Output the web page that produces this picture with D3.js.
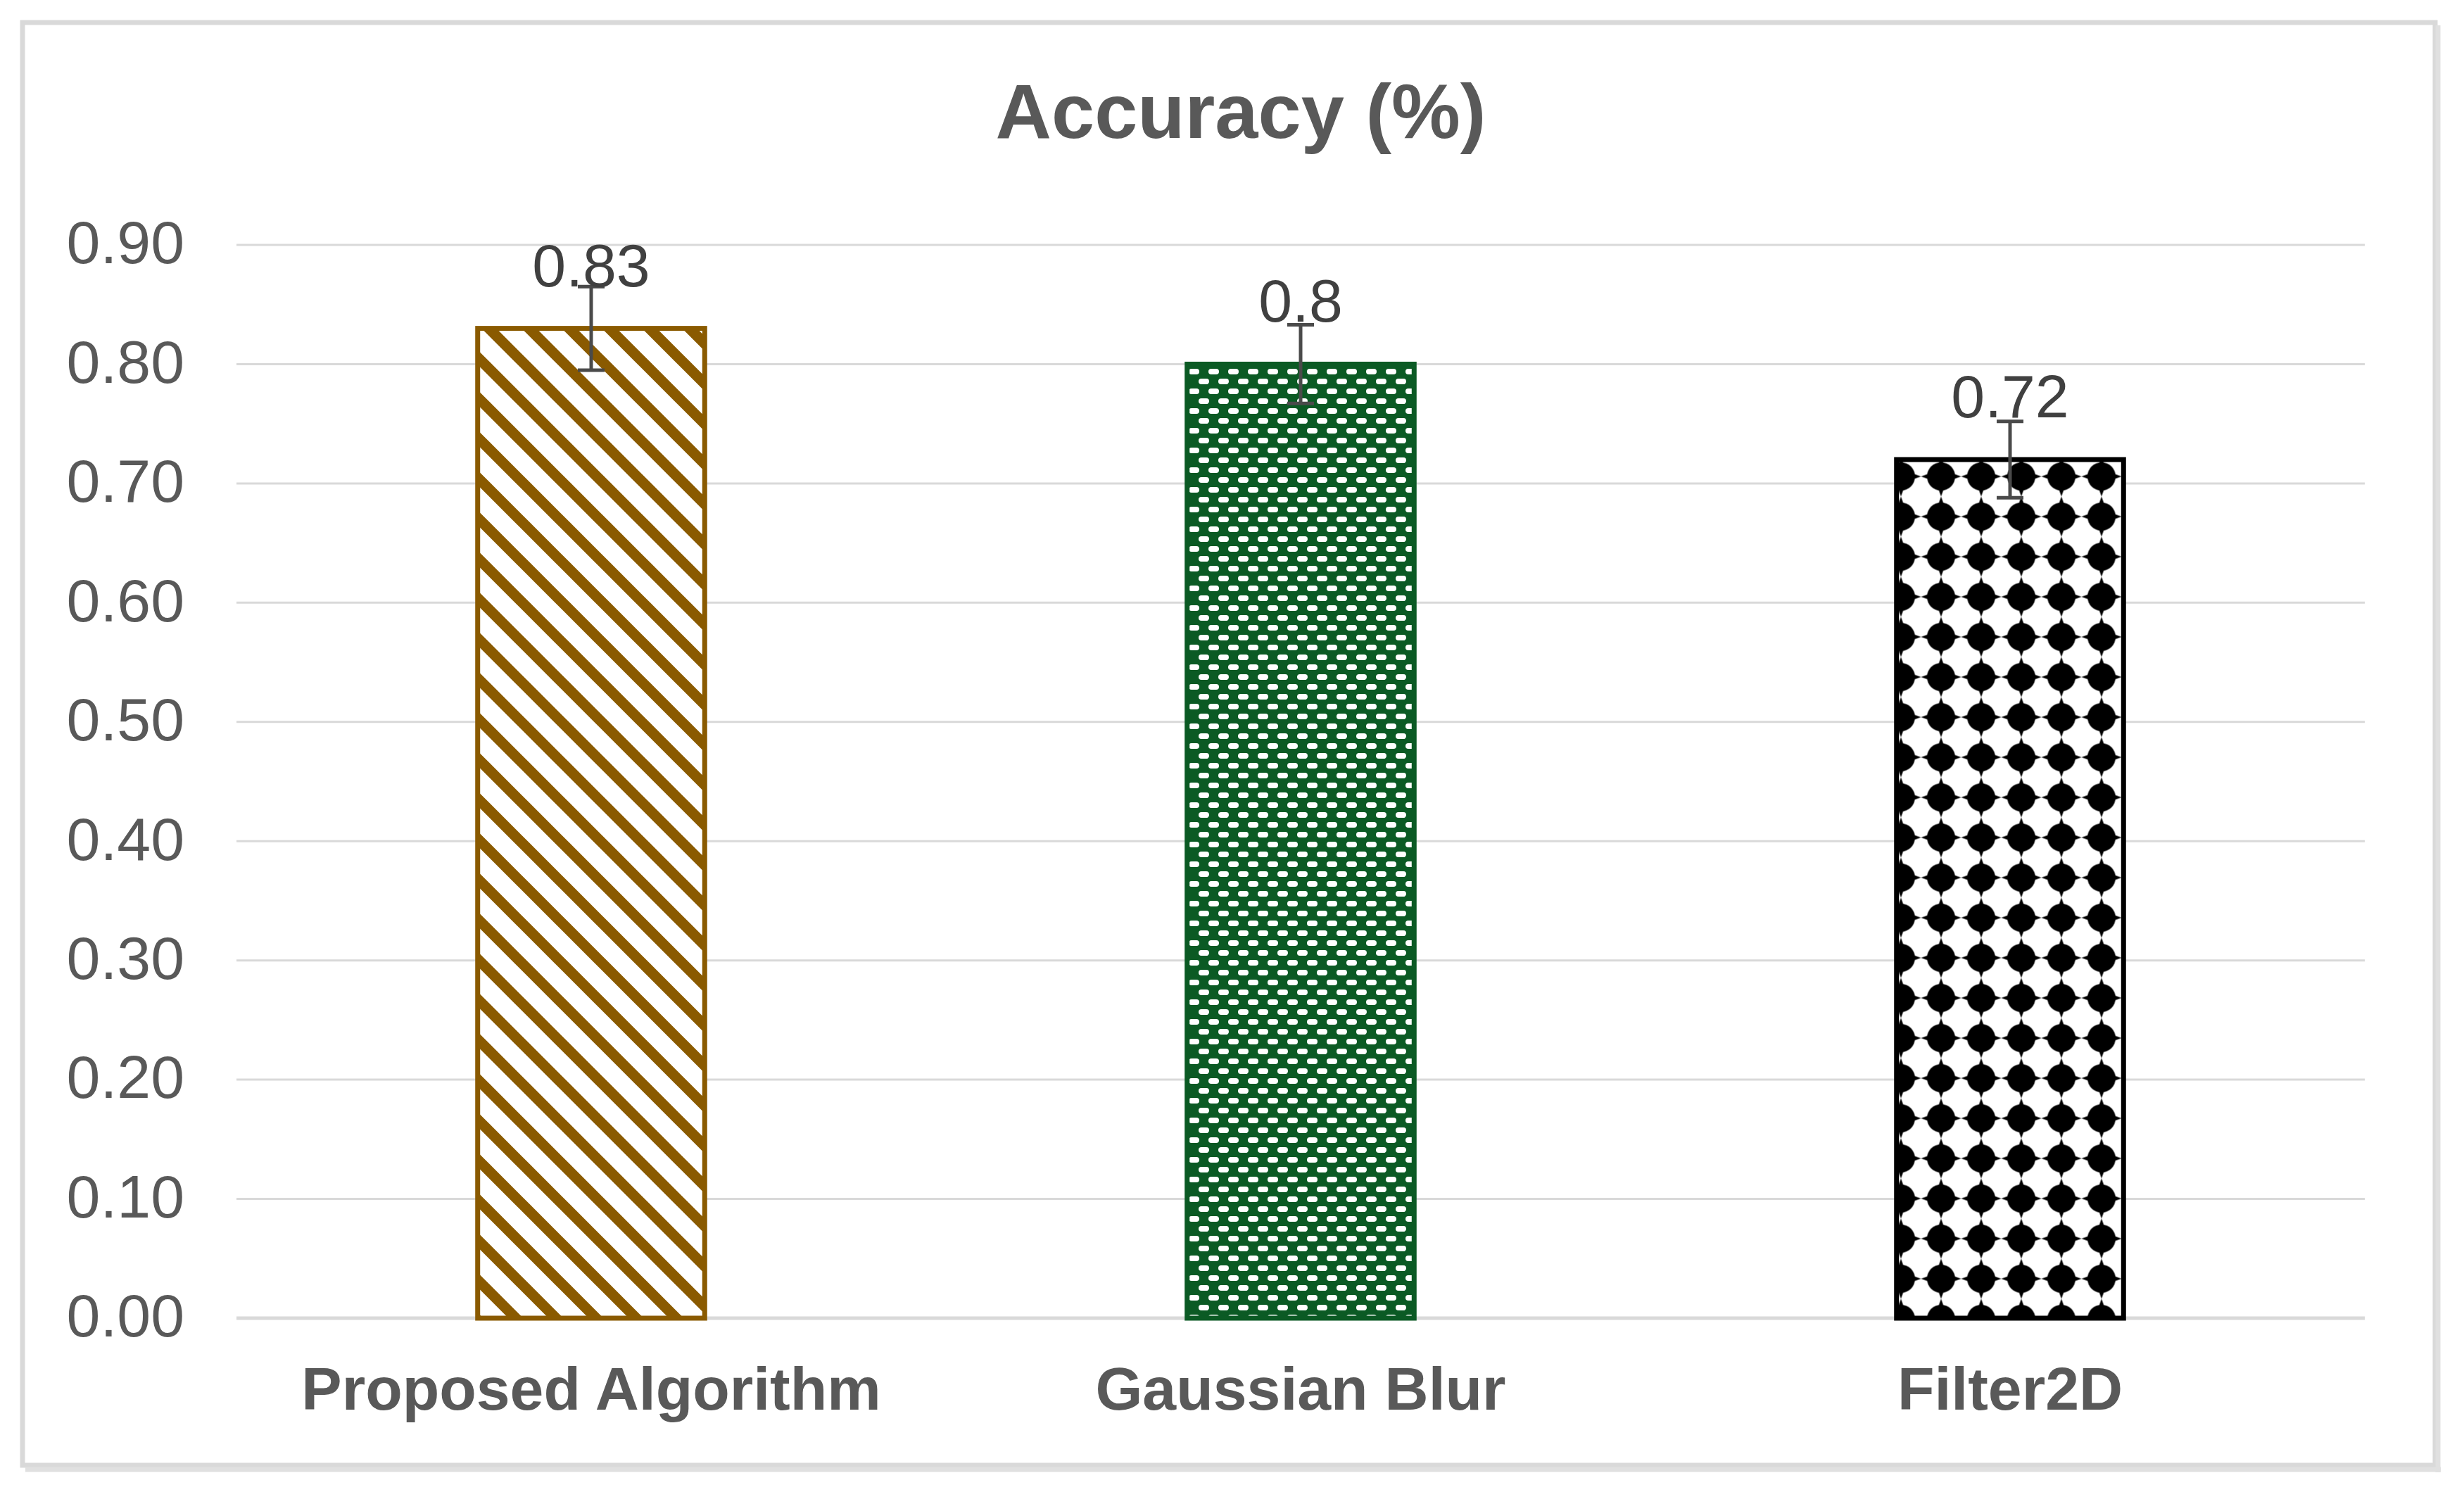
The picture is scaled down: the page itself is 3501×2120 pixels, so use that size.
<!DOCTYPE html>
<html>
<head>
<meta charset="utf-8">
<script src="https://cdnjs.cloudflare.com/ajax/libs/d3/7.8.5/d3.min.js"></script>
<style>
  body { margin: 0; background: #fff; }
  text { font-family: "Liberation Sans", Arial, sans-serif; fill: #595959; }
</style>
</head>
<body>
<div id="chart"></div>
<script>

// data
var categories = ["Proposed Algorithm", "Gaussian Blur", "Filter2D"];
var accuracy = [0.83, 0.8, 0.72];
var errorSize = [0.035, 0.033, 0.032];
var valueLabels = ["0.83", "0.8", "0.72"];
var yTicks = [0, 0.1, 0.2, 0.3, 0.4, 0.5, 0.6, 0.7, 0.8, 0.9];
var patternIds = ["stripes", "dashes", "stars"];
var barColors = ["#8a5a00", "#0b5a24", "#000000"];

var W = 3501, H = 2120;

var svg = d3.select("#chart").append("svg")
    .attr("width", W)
    .attr("height", H);

// Set the ranges
var x = d3.scaleBand()
    .domain(categories)
    .range([336, 3360])
    .paddingInner(0.68)
    .paddingOuter(0.34);

var y = d3.scaleLinear()
    .domain([0, 0.9])
    .range([1873, 348]);

// chart border (with a slight shadow on right/bottom)
svg.append("rect")
    .attr("x", 32).attr("y", 32)
    .attr("width", 3428).attr("height", 2050)
    .attr("fill", "#fff")
    .attr("stroke", "#d9d9d9")
    .attr("stroke-width", 7);
svg.append("line")
    .attr("x1", 3464).attr("x2", 3464)
    .attr("y1", 36).attr("y2", 2092)
    .attr("stroke", "#e0e0e0").attr("stroke-width", 7);
svg.append("line")
    .attr("x1", 36).attr("x2", 3468)
    .attr("y1", 2088).attr("y2", 2088)
    .attr("stroke", "#e0e0e0").attr("stroke-width", 7);

// fill patterns
var defs = svg.append("defs");

var p1 = defs.append("pattern")
    .attr("id", "stripes")
    .attr("patternUnits", "userSpaceOnUse")
    .attr("width", 57).attr("height", 57);
p1.append("rect").attr("width", 57).attr("height", 57).attr("fill", "#fff");
p1.append("path")
    .attr("d", "M-10,-10L67,67M-67,-10L10,67M47,-10L124,67")
    .attr("stroke", barColors[0])
    .attr("stroke-width", 15);

var p2 = defs.append("pattern")
    .attr("id", "dashes")
    .attr("patternUnits", "userSpaceOnUse")
    .attr("x", 1688).attr("y", 520)
    .attr("width", 28).attr("height", 28);
p2.append("rect").attr("width", 28).attr("height", 28).attr("fill", barColors[1]);
p2.append("rect").attr("x", 1).attr("y", 4).attr("width", 15).attr("height", 8)
    .attr("rx", 4).attr("fill", "#fff");
p2.append("rect").attr("x", 15).attr("y", 18).attr("width", 15).attr("height", 8)
    .attr("rx", 4).attr("fill", "#fff");
p2.append("rect").attr("x", -13).attr("y", 18).attr("width", 15).attr("height", 8)
    .attr("rx", 4).attr("fill", "#fff");

var p3 = defs.append("pattern")
    .attr("id", "stars")
    .attr("patternUnits", "userSpaceOnUse")
    .attr("x", 2701 - 28.5).attr("y", 677 - 28.5)
    .attr("width", 57).attr("height", 57);
p3.append("rect").attr("width", 57).attr("height", 57).attr("fill", "#fff");
p3.append("circle").attr("cx", 28.5).attr("cy", 28.5).attr("r", 20).attr("fill", "#000");
p3.append("path")
    .attr("d", "M28.5,0L36,21L57,28.5L36,36L28.5,57L21,36L0,28.5L21,21Z")
    .attr("fill", "#000");

// gridlines
svg.append("g")
    .selectAll("line")
    .data(yTicks)
    .enter().append("line")
    .attr("x1", 336)
    .attr("x2", 3360)
    .attr("y1", function(d) { return y(d); })
    .attr("y2", function(d) { return y(d); })
    .attr("stroke", "#d9d9d9")
    .attr("stroke-width", function(d) { return d === 0 ? 5 : 3; });

// Y axis labels
var ya = d3.axisLeft(y)
    .tickValues(yTicks)
    .tickFormat(d3.format(".2f"))
    .tickSize(0)
    .tickPadding(74);

svg.append("g")
    .attr("transform", "translate(336,0)")
    .call(ya)
    .call(function(g) { g.select(".domain").remove(); })
    .selectAll("text")
    .attr("font-size", 86)
    .attr("dy", "0.3em")
    .style("fill", "#595959");

// X axis labels
var xa = d3.axisBottom(x).tickSize(0).tickPadding(0);

svg.append("g")
    .attr("transform", "translate(0,2003)")
    .call(xa)
    .call(function(g) { g.select(".domain").remove(); })
    .selectAll("text")
    .attr("dy", 0)
    .attr("y", 0)
    .attr("font-size", 86)
    .attr("font-weight", "bold")
    .style("fill", "#595959");

// bars
var rows = categories.map(function(c, i) {
    return { cat: c, v: accuracy[i], e: errorSize[i], label: valueLabels[i], i: i };
});

svg.selectAll(".bar")
    .data(rows)
    .enter().append("rect")
    .attr("class", "bar")
    .attr("x", function(d) { return x(d.cat); })
    .attr("width", x.bandwidth())
    .attr("y", function(d) { return y(d.v); })
    .attr("height", function(d) { return y(0) - y(d.v); })
    .attr("fill", function(d) { return "url(#" + patternIds[d.i] + ")"; })
    .attr("stroke", function(d) { return barColors[d.i]; })
    .attr("stroke-width", 7);

// error bars
var eb = svg.selectAll(".err")
    .data(rows)
    .enter().append("g")
    .attr("class", "err")
    .attr("stroke", "#4a4a4a")
    .attr("stroke-width", 5);

eb.append("line")
    .attr("x1", function(d) { return x(d.cat) + x.bandwidth() / 2; })
    .attr("x2", function(d) { return x(d.cat) + x.bandwidth() / 2; })
    .attr("y1", function(d) { return y(d.v + d.e); })
    .attr("y2", function(d) { return y(d.v - d.e); });
[1, -1].forEach(function(s) {
    eb.append("line")
        .attr("x1", function(d) { return x(d.cat) + x.bandwidth() / 2 - 19; })
        .attr("x2", function(d) { return x(d.cat) + x.bandwidth() / 2 + 19; })
        .attr("y1", function(d) { return y(d.v + s * d.e); })
        .attr("y2", function(d) { return y(d.v + s * d.e); });
});

// value labels
svg.selectAll(".vlabel")
    .data(rows)
    .enter().append("text")
    .attr("class", "vlabel")
    .attr("x", function(d) { return x(d.cat) + x.bandwidth() / 2; })
    .attr("y", function(d) { return y(d.v) - 60; })
    .attr("text-anchor", "middle")
    .attr("font-size", 86)
    .style("fill", "#404040")
    .text(function(d) { return d.label; });

// title
svg.append("text")
    .attr("x", 1763)
    .attr("y", 196)
    .attr("text-anchor", "middle")
    .attr("font-size", 110)
    .attr("font-weight", "bold")
    .text("Accuracy (%)");

</script>
</body>
</html>
